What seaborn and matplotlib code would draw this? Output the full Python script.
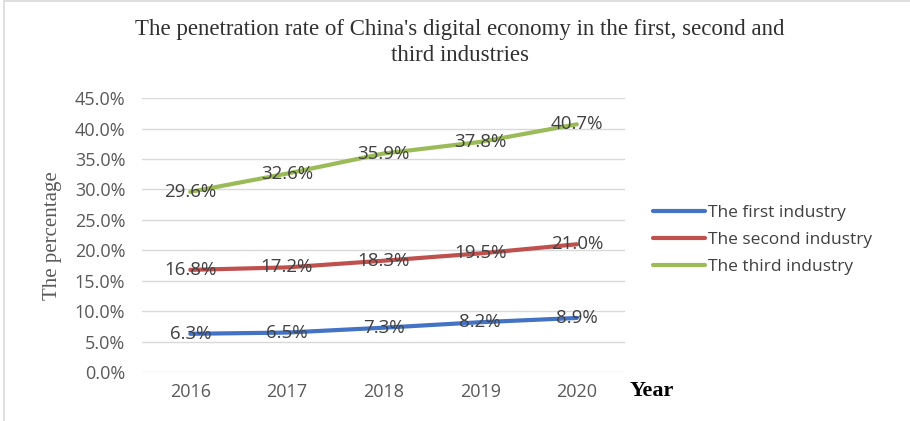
import matplotlib
matplotlib.use("Agg")
import matplotlib.pyplot as plt
import seaborn as sns
import pandas as pd
from matplotlib.lines import Line2D

# data
years = ["2016", "2017", "2018", "2019", "2020"]
first_industry = [6.3, 6.5, 7.3, 8.2, 8.9]
second_industry = [16.8, 17.2, 18.3, 19.5, 21.0]
third_industry = [29.6, 32.6, 35.9, 37.8, 40.7]
series_names = ["The first industry", "The second industry", "The third industry"]
colors = ["#4472C4", "#C0504D", "#9BBB59"]

df = pd.DataFrame({
    "Year": years * 3,
    "Value": first_industry + second_industry + third_industry,
    "Series": [s for s in series_names for _ in years],
})

sns.set_style("white")
plt.rcParams["font.family"] = ["Open Sans", "DejaVu Sans"]

fig = plt.figure(figsize=(9.1, 4.21), dpi=100)
ax = fig.add_axes([0.156, 0.116, 0.531, 0.651])

sns.lineplot(data=df, x="Year", y="Value", hue="Series", palette=colors,
             linewidth=3, ax=ax, sort=False)

# data labels centred on the points
for vals in [first_industry, second_industry, third_industry]:
    for i, v in enumerate(vals):
        ax.text(i, v, f"{v:.1f}%", ha="center", va="center", fontsize=13.5,
                color="#404040", zorder=5)

ax.set_xlim(-0.5, 4.5)
ax.set_ylim(0, 45)
ax.set_yticks(range(0, 46, 5))
ax.set_yticklabels([f"{t:.1f}%" for t in range(0, 46, 5)])
ax.tick_params(axis="both", length=0, labelsize=13, labelcolor="#595959")
ax.tick_params(axis="y", pad=12)
ax.tick_params(axis="x", pad=8)
ax.grid(axis="y", color="#D9D9D9", linewidth=1)
ax.set_axisbelow(True)
for s in ax.spines.values():
    s.set_visible(False)

ax.set_xlabel("")
ax.set_ylabel("The percentage", family="Liberation Serif", fontsize=15,
              color="#595959", labelpad=9)
fig.text(0.692, 0.072, "Year", family="Liberation Serif", fontsize=16,
         fontweight="bold", color="#000000", ha="left", va="center")

fig.suptitle("The penetration rate of China's digital economy in the first, second and\nthird industries",
             family="Liberation Serif", fontsize=16.5, color="#303030",
             x=0.505, y=0.955, linespacing=1.3)

handles = [Line2D([0], [0], color=c, linewidth=3) for c in colors]
ax.get_legend().remove()
fig.legend(handles, series_names, loc="center left", bbox_to_anchor=(0.7, 0.43),
           frameon=False, fontsize=12.5, labelcolor="#404040",
           handlelength=3.0, handletextpad=0.2, labelspacing=0.6)

# light border at left and top
fig.add_artist(Line2D([0.004, 0.004], [0, 0.998], transform=fig.transFigure,
                      color="#D9D9D9", linewidth=1.2))
fig.add_artist(Line2D([0.004, 1], [0.998, 0.998], transform=fig.transFigure,
                      color="#D9D9D9", linewidth=1.2))

fig.savefig("out.png", dpi=100)
